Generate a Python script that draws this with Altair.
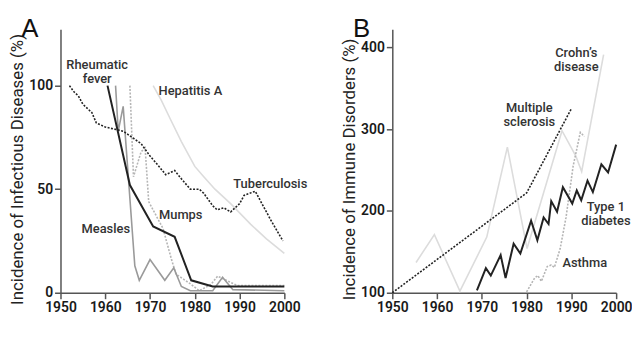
import altair as alt
import pandas as pd

# ---------------- Panel A: infectious diseases ----------------
tb_years = [1952, 1953, 1954, 1955, 1956, 1957, 1958, 1960, 1962, 1964, 1966, 1968, 1970, 1972,
            1973.5, 1975.5, 1977, 1979, 1981, 1982, 1984, 1985, 1986.5, 1988, 1989, 1990, 1991,
            1993.5, 1995, 1997, 1999.7]
tb_vals = [100, 97, 95, 91, 89, 87, 82, 80, 79, 78, 75, 72, 66, 61,
           57, 59, 55, 50, 50, 48, 42, 40, 41, 39, 41, 43, 47,
           49, 43, 35, 25]

rf_years = [1960.5, 1965.5, 1970.7, 1975.5, 1979.2, 1984, 2000]
rf_vals = [100, 52, 32, 27, 6, 3, 3]

measles_years = [1962.3, 1962.9, 1964, 1966.6, 1967.6, 1970, 1973.3, 1975.3, 1977, 1979,
                 1984, 1986.2, 1988.5, 2000]
measles_vals = [100, 78, 90, 13, 6, 16, 6, 12, 3, 1, 1, 7.5, 1.5, 1]

mumps_years = [1965.5, 1966.3, 1968, 1968.9, 1969.7, 1972.9, 1974.8, 1975.8, 1979.2, 1981,
               1983.6, 1985.1, 1988, 1989.5, 2000]
mumps_vals = [100, 56, 68, 70, 44, 31, 16, 9, 4, 1, 4, 8, 5, 3.5, 3.5]

hepa_years = [1970.7, 1972.5, 1974.5, 1977, 1980, 1982, 1984.5, 1988, 1992.5, 1996, 2000]
hepa_vals = [100, 93, 84, 73, 61, 56, 50, 43, 33, 26, 19]

a_label_text = ["Rheumatic", "fever", "Hepatitis A", "Tuberculosis", "Mumps", "Measles"]
a_label_year = [1958.2, 1958.2, 1971.9, 1988.6, 1972.0, 1954.7]
a_label_val = [110, 103.3, 97.6, 52.7, 37.4, 30.6]
a_label_align = ["center", "center", "left", "left", "left", "left"]

# ---------------- Panel B: immune disorders ----------------
ms_years = [1950, 1980, 1990]
ms_vals = [100, 222, 325]

crohn_years = [1955.3, 1959.4, 1965.1, 1971.1, 1975.7, 1980.1, 1987.9, 1991, 1992.3, 1997.2]
crohn_vals = [137, 171, 102, 168, 278, 154, 298, 267, 248, 391]

t1d_years = [1968.9, 1970.9, 1972, 1974.2, 1975.3, 1977.1, 1978.6, 1981, 1982.4, 1983.8, 1984.9,
             1985.5, 1986.8, 1988.1, 1990.2, 1991.2, 1992.2, 1993.6, 1994.8, 1996.7, 1998.2, 2000]
t1d_vals = [103, 130, 121, 146, 118, 160, 148, 188, 164, 192, 184,
            212, 199, 229, 209, 225, 213, 237, 223, 257, 247, 281]

asthma_years = [1980, 1981.8, 1982.5, 1983.3, 1984.6, 1985.5, 1986.2, 1987.5, 1988.8, 1990.4, 1992, 1992.9]
asthma_vals = [101, 118, 121, 114, 132, 134, 131, 154, 192, 255, 296, 291]

b_label_text = ["Crohn\u2019s", "disease", "Multiple", "sclerosis", "Type 1", "diabetes", "Asthma"]
b_label_year = [1991.1, 1991.1, 1980.6, 1980.6, 1997.7, 1997.7, 1988.0]
b_label_val = [393, 376, 325.5, 309, 204.8, 187.8, 136]
b_label_align = ["center", "center", "center", "center", "center", "center", "left"]

x_ticks = [1950, 1960, 1970, 1980, 1990, 2000]
a_y_ticks = [0, 50, 100]
b_y_ticks = [100, 200, 300, 400]

FONT = "Roboto"
W, H = 226, 266


def make_enc(ys_scale, yticks, title):
    X = alt.X("year:Q", scale=alt.Scale(domain=[1950, 2000], nice=False, zero=False),
              axis=alt.Axis(values=x_ticks, format="d", title=None))
    Y = alt.Y("value:Q", scale=ys_scale,
              axis=alt.Axis(values=yticks, format="d", title=title, titleY=141, titlePadding=2))
    return X, Y


def line(years, vals, color, width, dash, X, Y):
    df = pd.DataFrame({"year": years, "value": vals})
    kw = dict(color=color, strokeWidth=width)
    if dash:
        kw["strokeDash"] = dash
    return alt.Chart(df).mark_line(**kw).encode(x=X, y=Y)


def labels(texts, years, vals, aligns, X, Y):
    layers = []
    for align in ["left", "center"]:
        df = pd.DataFrame({"t": texts, "year": years, "value": vals, "a": aligns})
        df = df[df["a"] == align]
        if len(df) == 0:
            continue
        layers.append(alt.Chart(df).mark_text(
            align=align, baseline="middle", font=FONT, fontSize=13,
            fontWeight=500, color="#333"
        ).encode(x=X, y=Y, text="t:N"))
    return layers


def letter(txt):
    return alt.Chart(pd.DataFrame({"t": [txt]})).mark_text(
        align="center", baseline="alphabetic", font="Liberation Sans", fontSize=26, color="#111"
    ).encode(x=alt.value(-31), y=alt.value(8), text="t:N")


XA, YA = make_enc(alt.Scale(domain=[0, 127.2], nice=False, zero=False), a_y_ticks,
                  "Incidence of Infectious Diseases (%)")
XB, YB = make_enc(alt.Scale(domain=[100, 422], nice=False, zero=False), b_y_ticks,
                  "Incidence of Immune Disorders (%)")

panel_a = alt.layer(
    line(hepa_years, hepa_vals, "#dcdcdc", 1.6, None, XA, YA),
    line(mumps_years, mumps_vals, "#b5b5b5", 1.6, [2, 1.5], XA, YA),
    line(measles_years, measles_vals, "#9a9a9a", 1.6, None, XA, YA),
    line(tb_years, tb_vals, "#222", 1.6, [2, 1.5], XA, YA),
    line(rf_years, rf_vals, "#222", 2, None, XA, YA),
    *labels(a_label_text, a_label_year, a_label_val, a_label_align, XA, YA),
    letter("A"),
).properties(width=W, height=H)

panel_b = alt.layer(
    line(crohn_years, crohn_vals, "#dcdcdc", 1.6, None, XB, YB),
    line(asthma_years, asthma_vals, "#b5b5b5", 1.6, [2, 1.5], XB, YB),
    line(ms_years, ms_vals, "#222", 1.6, [2, 1.5], XB, YB),
    line(t1d_years, t1d_vals, "#222", 2, None, XB, YB),
    *labels(b_label_text, b_label_year, b_label_val, b_label_align, XB, YB),
    letter("B"),
).properties(width=W, height=H)

chart = alt.hconcat(panel_a, panel_b, spacing=33).properties(
    padding={"left": 1, "top": 7, "right": 0, "bottom": 0},
    background="white",
).configure_view(stroke=None).configure_axis(
    grid=False,
    domainColor="#555", domainWidth=1.5,
    tickColor="#555", tickWidth=1.5, tickSize=6,
    labelFont=FONT, labelFontSize=14, labelFontWeight=600, labelColor="#1a1a1a", labelPadding=2,
    labelFlush=False, labelOverlap=False,
    titleFont=FONT, titleFontSize=17, titleFontWeight="normal", titleColor="#222",
)

chart.save("out.html", embed_options={"renderer": "svg", "actions": False})
